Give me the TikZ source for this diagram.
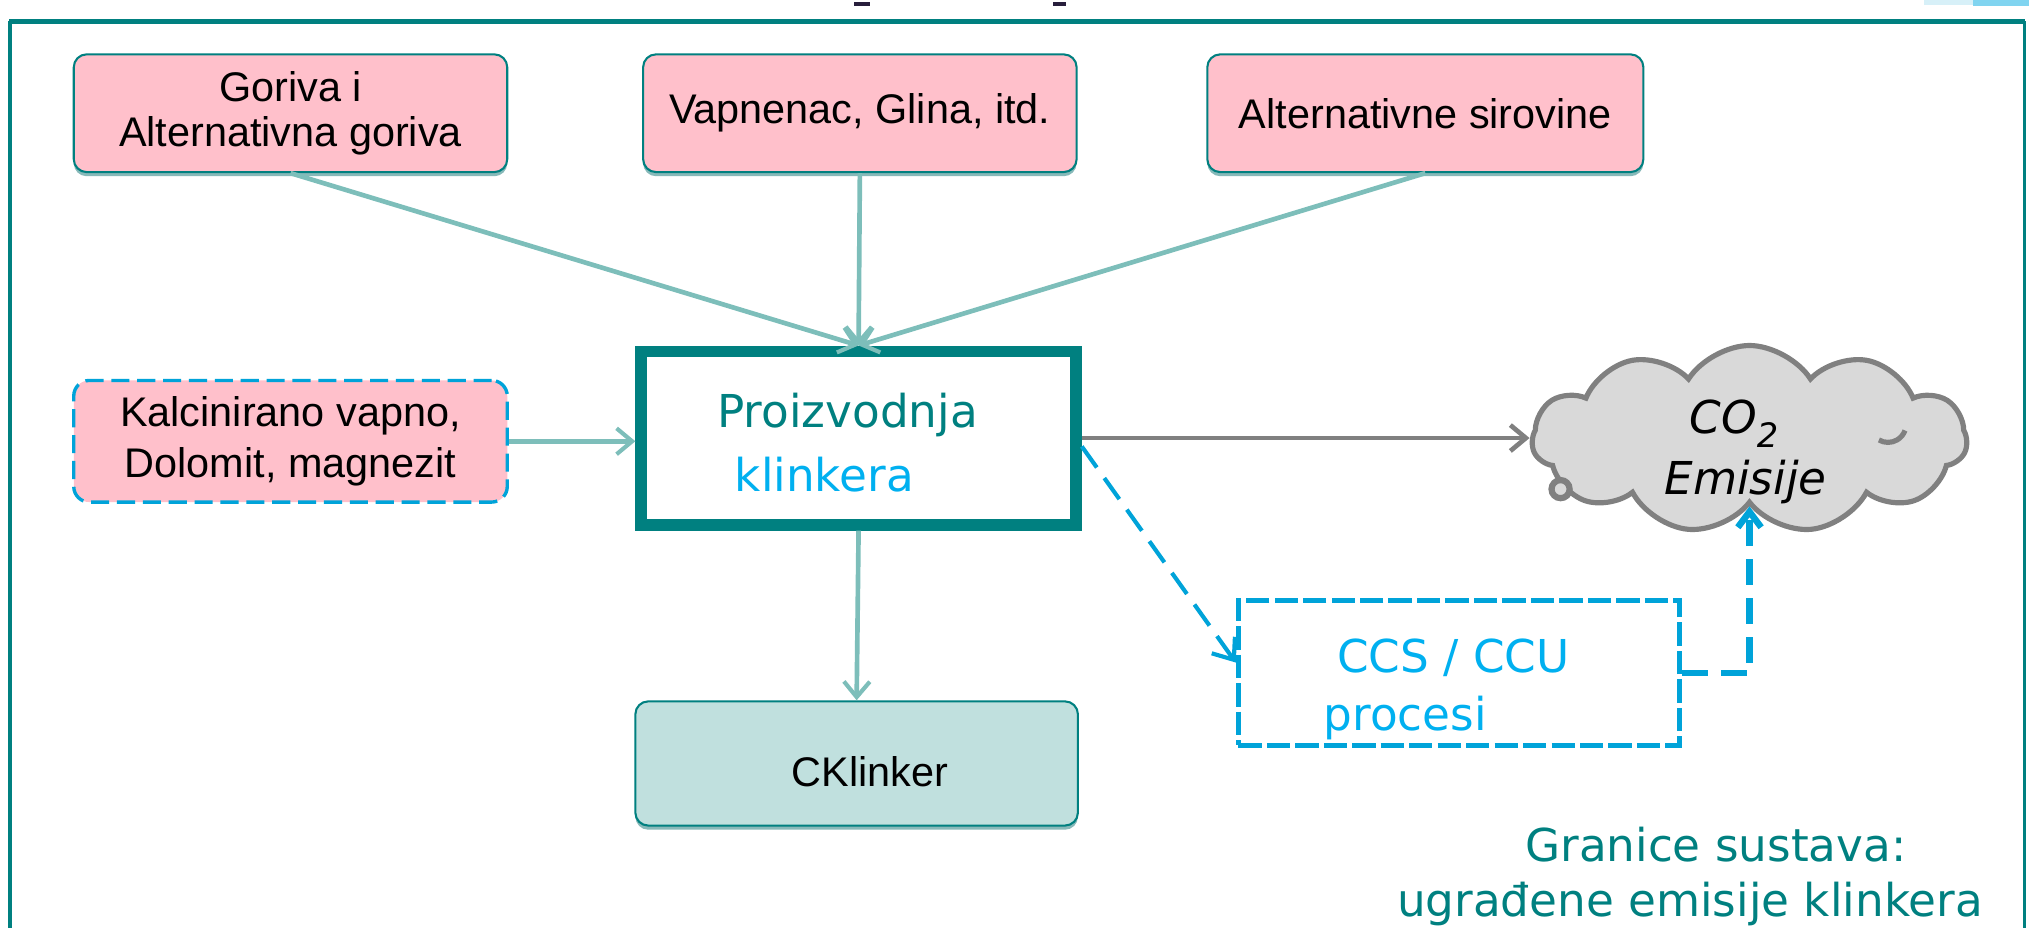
\documentclass[tikz,border=0pt]{standalone}
\usepackage{fontspec}
\usetikzlibrary{arrows.meta,shapes.symbols,shadows}
\newfontfamily\boxfont{Liberation Sans}
\newfontfamily\vfont{DejaVu Sans}[ItalicFont={DejaVu Sans Oblique}]
\definecolor{tealD}{RGB}{0,128,128}
\definecolor{tealL}{RGB}{125,190,186}
\definecolor{pinkF}{RGB}{255,192,203}
\definecolor{cklF}{RGB}{192,224,222}
\definecolor{shadowC}{RGB}{135,185,185}
\definecolor{blueD}{RGB}{0,163,217}
\definecolor{cyanT}{RGB}{0,176,240}
\definecolor{grayA}{RGB}{128,128,128}
\definecolor{cloudF}{RGB}{217,217,217}
\definecolor{paleB}{RGB}{215,240,248}
\definecolor{lightB}{RGB}{128,212,240}
\definecolor{glyphD}{RGB}{40,30,60}
\begin{document}
\begin{tikzpicture}[x=0.5pt,y=-0.5pt,
  srcbox/.style={draw=tealD, line width=0.8pt, rounded corners=5pt, fill=pinkF,
    inner sep=0pt, minimum width=167.5pt, minimum height=45.5pt, align=center,
    text=black, font=\boxfont\fontsize{16}{17.7}\selectfont,
    drop shadow={shadow xshift=0pt, shadow yshift=-1.6pt, fill=shadowC, opacity=1}},
  kalbox/.style={draw=blueD, line width=1.3pt, dash pattern=on 7pt off 3pt,
    rounded corners=6pt, fill=pinkF, inner sep=0pt, minimum width=167.5pt,
    minimum height=47pt, align=center, text=black,
    font=\boxfont\fontsize{16}{19.5}\selectfont},
  mainbox/.style={draw=tealD, line width=4.5pt, fill=white, inner sep=0pt,
    minimum width=168pt, minimum height=67pt},
  outbox/.style={draw=tealD, line width=0.8pt, rounded corners=5pt, fill=cklF,
    inner sep=0pt, minimum width=171pt, minimum height=48pt,
    drop shadow={shadow xshift=0pt, shadow yshift=-1.6pt, fill=shadowC, opacity=1}},
  ccsbox/.style={draw=blueD, line width=2pt, dash pattern=on 9pt off 2pt,
    fill=white, inner sep=0pt, minimum width=170.5pt, minimum height=56pt},
  puffs/.style={cloud, cloud puffs=11, cloud puff arc=115, aspect=2.3,
    minimum width=168pt, minimum height=72.5pt, inner sep=0pt,
    fill=cloudF, draw=grayA, line width=2pt},
  txt/.style={inner sep=0pt, anchor=base},
  vtxt/.style={inner sep=0pt, font=\vfont\fontsize{17.5}{21}\selectfont},
  flow/.style={draw=tealL, line width=1.8pt,
    -{Straight Barb[length=6pt,width=10pt,line width=1.6pt]}},
  flowgray/.style={draw=grayA, line width=1.8pt,
    -{Straight Barb[length=6pt,width=10pt,line width=1.8pt]}},
  flowdash/.style={draw=blueD, line width=1.6pt, dash pattern=on 10pt off 5pt,
    -{Straight Barb[length=7pt,width=11pt,line width=1.6pt]}},
  flowthick/.style={draw=blueD, line width=2.5pt, dash pattern=on 10pt off 5pt,
    -{Straight Barb[length=6pt,width=9pt,line width=2.5pt]}},
  frame/.style={draw=tealD}
]
\useasboundingbox (0,0) rectangle (1568,717);

% system boundary frame
\draw[frame, line width=1.5pt] (8,725) -- (8,16.6);
\draw[frame, line width=2pt] (7.25,16.6) -- (1565,16.6);
\draw[frame, line width=1.2pt] (1564.5,16.6) -- (1564.5,725);

% remains of the heading above the frame
\fill[glyphD] (660,1.5) rectangle (672,4.5);
\fill[glyphD] (814,1.5) rectangle (824,4.5);
\fill[paleB] (1487,0) rectangle (1525,4);
\fill[lightB] (1525,0) rectangle (1568,5);

% inputs
\node[srcbox] (g1) at (224.5,87.5) {Goriva i\\Alternativna goriva};
\node[srcbox] (g2) at (664.5,87.5) {Vapnenac, Glina, itd.};
\node[srcbox, minimum width=168.5pt] (g3) at (1101.5,87.5) {Alternativne sirovine};
\node[kalbox] (kal) at (224.5,341) {Kalcinirano vapno,\\Dolomit, magnezit};

% clinker production
\node[mainbox] (prod) at (663.5,338.5) {};
\node[txt, anchor=base west, vtxt, text=tealD] (prodA) at (554,330) {Proizvodnja};
\node[txt, anchor=base west, vtxt, text=cyanT] (prodB) at (567.5,379.6) {klinkera};

% product
\node[outbox] (ckl) at (662,590) {};
\node[txt, font=\boxfont\fontsize{16}{18}\selectfont] (cklT) at (672.5,608) {CKlinker};

% emissions cloud
\node[puffs] (cloud) at (1352,339.5) {};
\draw[grayA, line width=2.4pt, fill=cloudF] (1206,378) circle[radius=7];
\draw[grayA, line width=2pt] (1452,340) arc[start angle=120, end angle=20, radius=14];
\node[txt, vtxt, font=\vfont\itshape\fontsize{17.5}{21}\selectfont] (co2) at (1340,334.8)
  {CO\raisebox{-5.5pt}{\fontsize{13}{13}\selectfont 2}};
\node[txt, vtxt, font=\vfont\itshape\fontsize{17.5}{21}\selectfont] (emi) at (1349,382.5) {Emisije};

% capture
\node[ccsbox] (ccs) at (1127.5,520) {};
\node[txt, anchor=base west, vtxt, text=cyanT] (ccsA) at (1033,520) {CCS / CCU};
\node[txt, anchor=base west, vtxt, text=cyanT] (ccsB) at (1022.5,564.8) {procesi};

% boundary note
\node[txt, vtxt, text=tealD] (noteA) at (1326,666) {Granice sustava:};
\node[txt, vtxt, text=tealD] (noteB) at (1306,708.6) {ugrađene emisije klinkera};

% connectors
\draw[flow] (g1.south) -- (prod.north);
\draw[flow] (g2.south) -- (prod.north);
\draw[flow] (g3.south) -- (prod.north);
\draw[flow] (kal.east) -- (kal.east -| prod.west);
\draw[flow] (prod.south) -- (ckl.north);
\draw[flowgray] (prod.east) -- (prod.east -| cloud.west);
\draw[flowdash] ([yshift=-3.25pt]prod.east) -- ([yshift=4pt]ccs.west);
\draw[flowthick] (ccs.east) -| (cloud.south);
\end{tikzpicture}
\end{document}
